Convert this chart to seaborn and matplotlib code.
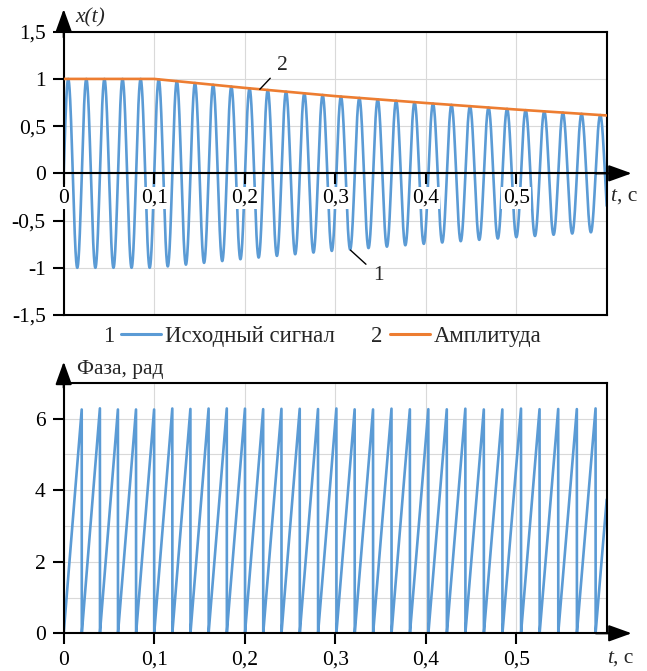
import numpy as np
import pandas as pd
import matplotlib
matplotlib.use("Agg")
import matplotlib.pyplot as plt
import seaborn as sns

# ---------------- data ----------------
amp_t = [0.0, 0.1, 0.2, 0.3, 0.4, 0.5, 0.6]            # s
amp_v = [1.0, 1.0, 0.905, 0.818, 0.745, 0.676, 0.613]  # amplitude envelope
freq_t = [0.0, 0.1, 0.6]                               # s
freq_hz = [50.0, 50.0, 48.38]                          # instantaneous frequency
fs = 10000                                             # sampling rate, Hz
t_end = 0.6

x_ticks = [0.0, 0.1, 0.2, 0.3, 0.4, 0.5]
x_tick_labels = ["0", "0,1", "0,2", "0,3", "0,4", "0,5"]
x_grid = [0.0, 0.1, 0.2, 0.3, 0.4, 0.5, 0.6]
y1_ticks = [-1.5, -1.0, -0.5, 0.0, 0.5, 1.0, 1.5]
y1_tick_labels = ["-1,5", "-1", "-0,5", "0", "0,5", "1", "1,5"]
y2_ticks = [0, 2, 4, 6]
y2_tick_labels = ["0", "2", "4", "6"]
y2_minor = [1, 3, 5, 7]
series_labels = ["Исходный сигнал", "Амплитуда"]
series_nums = ["1", "2"]

# ---------------- signal built from the read parameters ----------------
t = np.arange(0, t_end + 0.5 / fs, 1 / fs)
f_inst = np.interp(t, freq_t, freq_hz)
phase = 2 * np.pi * np.concatenate([[0.0], np.cumsum((f_inst[1:] + f_inst[:-1]) / 2 * np.diff(t))])
env = np.interp(t, amp_t, amp_v)
sig = env * np.sin(phase)
phase_w = np.mod(phase, 2 * np.pi)

df_sig = pd.DataFrame({"t": t, "x": sig, "phi": phase_w})
df_amp = pd.DataFrame({"t": amp_t, "a": amp_v})

# ---------------- style ----------------
sns.set_theme(style="white")
plt.rcParams["font.family"] = ["Liberation Serif", "DejaVu Serif"]
FS = 15.5
FS_LEG = 16.4
BLUE = "#5B9BD5"
ORANGE = "#ED7D31"
GRID = "#D9D9D9"
SPW = 1.5

W, H = 647, 671
fig = plt.figure(figsize=(W / 100, H / 100), dpi=100)
fig.patch.set_facecolor("white")

def frac(l, t_, r, b):
    return [l / W, (H - b) / H, (r - l) / W, (b - t_) / H]

ax1 = fig.add_axes(frac(63.7, 31.7, 606.7, 315))
ax2 = fig.add_axes(frac(63.7, 382.7, 606.7, 633.3))

arrow_style = "-|>,head_length=1.0,head_width=0.36"

def arrow(ax, xy_from, xy_to):
    ax.annotate("", xy=xy_to, xytext=xy_from, xycoords="axes fraction",
                textcoords="axes fraction",
                arrowprops=dict(arrowstyle=arrow_style, mutation_scale=14,
                                color="black", lw=SPW, shrinkA=0, shrinkB=0),
                annotation_clip=False, zorder=6)

# ================= top panel =================
sns.lineplot(data=df_sig, x="t", y="x", ax=ax1, color=BLUE, lw=1.9,
             estimator=None, sort=False, label=series_labels[0], zorder=2)
sns.lineplot(data=df_amp, x="t", y="a", ax=ax1, color=ORANGE, lw=1.9,
             estimator=None, sort=False, label=series_labels[1], zorder=3)
ax1.set_xlim(0, t_end)
ax1.set_ylim(-1.5, 1.5)
ax1.set_xlabel("")
ax1.set_ylabel("")
ax1.set_xticks(x_grid)
ax1.tick_params(axis="x", length=0, labelbottom=False)
ax1.set_yticks(y1_ticks, y1_tick_labels)
ax1.tick_params(axis="y", direction="out", length=8, width=SPW, pad=5,
                labelsize=FS, left=True, colors="black")
ax1.grid(True, color=GRID, lw=0.8)
ax1.set_axisbelow(True)
for s in ax1.spines.values():
    s.set_visible(True)
    s.set_color("black")
    s.set_linewidth(SPW)

# x axis through zero with its own ticks and labels
sec = ax1.secondary_xaxis(0.5)
try:
    sec.set_alignment("bottom")
except Exception:
    pass
sec.xaxis.set_ticks_position("bottom")
sec.xaxis.set_label_position("bottom")
sec.set_xticks(x_ticks, x_tick_labels)
sec.tick_params(axis="x", direction="out", length=8, width=SPW, pad=3,
                labelsize=FS, colors="black", bottom=True, top=False,
                labelbottom=True, labeltop=False)
sec.spines["bottom"].set_visible(True)
sec.spines["bottom"].set_linewidth(SPW)
sec.spines["bottom"].set_color("black")
sec.spines["top"].set_visible(False)
for tk in sec.xaxis.get_major_ticks():
    tk.label1.set_bbox(dict(facecolor="white", edgecolor="none", pad=1.0))
sec.set_zorder(5)

arrow(ax1, (0.98, 0.5), (1.046, 0.5))
arrow(ax1, (0.0, 0.98), (0.0, 1.08))

ax1.text(0.021, 1.048, "x(t)", transform=ax1.transAxes, fontsize=FS,
         fontstyle="italic", ha="left", va="center")
t1 = ax1.text(1.007, 0.42, "t", transform=ax1.transAxes, fontsize=FS,
              fontstyle="italic", ha="left", va="center")
ax1.annotate(", с", xy=(1, 0), xycoords=t1, ha="left", va="bottom", fontsize=FS)

# callouts
ax1.annotate("2", xy=(0.2167, 0.890), xytext=(0.242, 1.147), textcoords="data",
             fontsize=FS, ha="center", va="center",
             arrowprops=dict(arrowstyle="-", color="black", lw=1.0, shrinkA=4, shrinkB=0))
ax1.annotate("1", xy=(0.3168, -0.8125), xytext=(0.348, -1.085), textcoords="data",
             fontsize=FS, ha="center", va="center",
             arrowprops=dict(arrowstyle="-", color="black", lw=1.0, shrinkA=4, shrinkB=0))

handles, labels = ax1.get_legend_handles_labels()
leg = ax1.legend(handles, labels, loc="center", bbox_to_anchor=(0.493, -0.076),
                 ncol=2, frameon=False, fontsize=FS_LEG, handlelength=1.75,
                 handletextpad=0.2, columnspacing=2.4, borderpad=0,
                 borderaxespad=0)
for ln in leg.get_lines():
    ln.set_linewidth(2.2)

# ================= bottom panel =================
sns.lineplot(data=df_sig, x="t", y="phi", ax=ax2, color=BLUE, lw=1.9,
             estimator=None, sort=False, zorder=2)
ax2.set_xlim(0, t_end)
ax2.set_ylim(0, 7)
ax2.set_xlabel("")
ax2.set_ylabel("")
ax2.set_xticks(x_ticks, x_tick_labels)
ax2.set_xticks(x_grid[-1:], minor=True)
ax2.set_yticks(y2_ticks, y2_tick_labels)
ax2.set_yticks(y2_minor, minor=True)
ax2.tick_params(axis="both", which="major", direction="out", length=8, width=SPW,
                labelsize=FS, colors="black", bottom=True, left=True)
ax2.tick_params(axis="x", which="major", pad=4.5)
ax2.tick_params(axis="y", which="major", pad=5)
ax2.tick_params(axis="both", which="minor", length=0, left=False, bottom=False)
ax2.grid(True, which="both", color=GRID, lw=0.8)
ax2.set_axisbelow(True)
for s in ax2.spines.values():
    s.set_visible(True)
    s.set_color("black")
    s.set_linewidth(SPW)

arrow(ax2, (0.98, 0.0), (1.046, 0.0))
arrow(ax2, (0.0, 0.98), (0.0, 1.084))

ax2.text(0.0245, 1.052, "Фаза, рад", transform=ax2.transAxes, fontsize=FS,
         ha="left", va="center")
t2 = ax2.text(1.0, -0.0986, "t", transform=ax2.transAxes, fontsize=FS,
              fontstyle="italic", ha="left", va="center")
ax2.annotate(", с", xy=(1, 0), xycoords=t2, ha="left", va="bottom", fontsize=FS)

# numbers in front of legend handles
fig.canvas.draw()
r = fig.canvas.get_renderer()
for ln, txt, num in zip(leg.get_lines(), leg.get_texts(), series_nums):
    bb = ln.get_window_extent(r)
    tb = txt.get_window_extent(r)
    fig.text((bb.x0 - 7) / fig.bbox.width, tb.y0 / fig.bbox.height, num,
             ha="right", va="bottom", fontsize=FS_LEG)

fig.savefig("out.png", dpi=100, facecolor="white")
